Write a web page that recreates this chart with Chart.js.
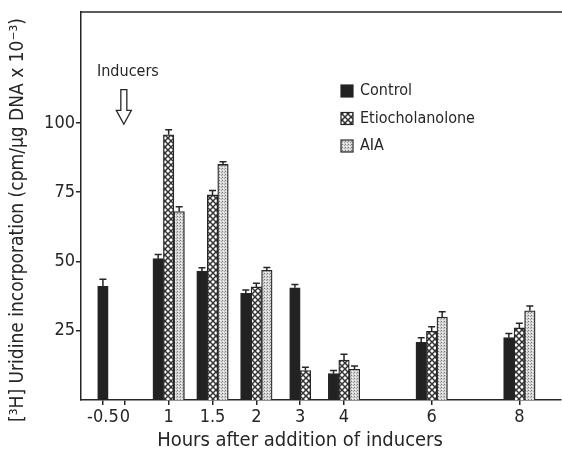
<!DOCTYPE html>
<html>
<head>
<meta charset="utf-8">
<script src="https://cdn.jsdelivr.net/npm/chart.js@4.4.1/dist/chart.umd.min.js"></script>
<style>
  html, body { margin: 0; padding: 0; background: #fff; }
  #wrap { width: 562px; height: 455px; }
</style>
</head>
<body>
<div id="wrap"><canvas id="myChart" width="562" height="455"></canvas></div>
<script>
// data
const hours = ["-0.5", "0", "1", "1.5", "2", "3", "4", "6", "8"];
const control = [41, null, 51, 46.5, 38.5, 40.5, 9.5, 20.8, 22.5];
const etio = [null, null, 95.7, 74, 40.8, 10.6, 14.4, 24.8, 26];
const aia = [null, null, 68, 85, 46.8, null, 11.1, 29.9, 32.2];
const controlErr = [2.6, null, 1.5, 1.2, 1.2, 1.2, 1.1, 1.7, 1.5];
const etioErr = [null, null, 1.8, 1.6, 1.3, 1.2, 2.1, 1.6, 1.7];
const aiaErr = [null, null, 1.7, 1.0, 1.0, null, 1.2, 1.9, 1.7];
const yTicks = [25, 50, 75, 100];

// the time axis of the figure is not to scale: slot index of each tick
const slots = [0, 1, 3, 5, 7, 9, 11, 15, 19];

const FONT = "'Liberation Sans Narrow', 'DejaVu Sans Condensed', 'Open Sans', sans-serif";
const INK = "#262626";

function makeTile(size, draw) {
  const c = document.createElement("canvas");
  c.width = size;
  c.height = size;
  const g = c.getContext("2d");
  g.fillStyle = "#fff";
  g.fillRect(0, 0, size, size);
  draw(g, size);
  return document.getElementById("myChart").getContext("2d").createPattern(c, "repeat");
}

const hatch = makeTile(6, (g, s) => {
  g.strokeStyle = "#333";
  g.lineWidth = 1.5;
  g.beginPath();
  g.moveTo(0, 0); g.lineTo(s, s);
  g.moveTo(0, s); g.lineTo(s, 0);
  g.stroke();
});

const dots = makeTile(3, (g) => {
  g.fillStyle = "#d6d6d6";
  g.fillRect(0, 0, 3, 3);
  g.fillStyle = "#7a7a7a";
  g.fillRect(0, 0, 1, 1);
  g.fillStyle = "#a8a8a8";
  g.fillRect(2, 1, 1, 1);
  g.fillStyle = "#f4f4f4";
  g.fillRect(1, 2, 1, 1);
});

const series = [
  { label: "Control", values: control, errs: controlErr, fill: "#222" },
  { label: "Etiocholanolone", values: etio, errs: etioErr, fill: hatch },
  { label: "AIA", values: aia, errs: aiaErr, fill: dots },
];

const extras = {
  id: "extras",
  afterDatasetsDraw(chart) {
    const ctx = chart.ctx;
    const y = chart.scales.y;
    ctx.save();
    ctx.strokeStyle = INK;
    ctx.lineWidth = 1.5;
    series.forEach((s, d) => {
      chart.getDatasetMeta(d).data.forEach((bar, i) => {
        const v = s.values[i];
        const e = s.errs[i];
        if (v == null || e == null) return;
        const top = y.getPixelForValue(v + e);
        ctx.beginPath();
        ctx.moveTo(bar.x, bar.y);
        ctx.lineTo(bar.x, top);
        ctx.moveTo(bar.x - 3.5, top);
        ctx.lineTo(bar.x + 3.5, top);
        ctx.stroke();
      });
    });
    ctx.restore();
  },
  afterDraw(chart) {
    const ctx = chart.ctx;
    const area = chart.chartArea;
    const x = chart.scales.x;
    const y = chart.scales.y;
    ctx.save();

    // top of the frame
    ctx.strokeStyle = INK;
    ctx.lineWidth = 1.5;
    ctx.beginPath();
    ctx.moveTo(area.left, area.top);
    ctx.lineTo(chart.width, area.top);
    ctx.stroke();

    // "Inducers" arrow at time 0
    const ax = x.getPixelForValue(slots[1]) - 1;
    const aTop = y.getPixelForValue(112);
    const aNeck = y.getPixelForValue(104.5);
    const aTip = y.getPixelForValue(99.5);
    ctx.lineWidth = 1.3;
    ctx.fillStyle = "#fff";
    ctx.beginPath();
    ctx.moveTo(ax - 3, aTop);
    ctx.lineTo(ax + 3, aTop);
    ctx.lineTo(ax + 3, aNeck);
    ctx.lineTo(ax + 7.5, aNeck);
    ctx.lineTo(ax, aTip);
    ctx.lineTo(ax - 7.5, aNeck);
    ctx.lineTo(ax - 3, aNeck);
    ctx.closePath();
    ctx.fill();
    ctx.stroke();

    ctx.fillStyle = INK;
    ctx.font = "16px " + FONT;
    ctx.textAlign = "left";
    ctx.textBaseline = "middle";
    ctx.fillText("Inducers", 97, 72);

    // legend
    series.forEach((s, i) => {
      const ly = 91 + i * 27.5;
      ctx.fillStyle = s.fill;
      ctx.fillRect(341, ly - 6, 12, 12);
      ctx.lineWidth = 1.2;
      ctx.strokeRect(341, ly - 6, 12, 12);
      ctx.fillStyle = INK;
      ctx.font = "16px " + FONT;
      ctx.fillText(s.label, 360, ly);
    });

    // axis titles
    ctx.textAlign = "center";
    ctx.font = "20px " + FONT;
    ctx.fillText("Hours after addition of inducers", 300, 441);
    ctx.translate(18, 220);
    ctx.rotate(-Math.PI / 2);
    ctx.font = "19px " + FONT;
    ctx.fillText("[\u00B3H] Uridine incorporation (cpm/\u00B5g DNA x 10\u207B\u00B3)", 0, 0);
    ctx.restore();
  },
};

new Chart(document.getElementById("myChart"), {
  type: "bar",
  data: {
    datasets: series.map((s) => ({
      label: s.label,
      data: hours.map((h, i) => ({ x: slots[i], y: s.values[i] })),
      backgroundColor: s.fill,
      borderColor: INK,
      borderWidth: 1.3,
      borderSkipped: "bottom",
      barThickness: 10.5,
    })),
  },
  options: {
    responsive: false,
    animation: false,
    skipNull: true,
    layout: { padding: { top: 12, right: 1, left: 0, bottom: 0 } },
    plugins: {
      legend: { display: false },
      tooltip: { enabled: false },
    },
    scales: {
      x: {
        type: "linear",
        offset: false,
        min: -1,
        max: 20.9,
        afterBuildTicks: (axis) => {
          axis.ticks = slots.map((v) => ({ value: v }));
        },
        afterFit: (axis) => {
          axis.height = 55;
        },
        ticks: {
          callback: (v, i) => hours[i],
          color: INK,
          font: { family: FONT, size: 18 },
          padding: 2,
          maxRotation: 0,
          autoSkip: false,
        },
        grid: { offset: false, drawOnChartArea: false, tickLength: 5, color: INK, lineWidth: 1.5 },
        border: { display: true, color: INK, width: 1.5 },
      },
      y: {
        min: 0,
        max: 140,
        afterBuildTicks: (axis) => {
          axis.ticks = yTicks.map((v) => ({ value: v }));
        },
        afterFit: (axis) => {
          axis.width = 81;
        },
        ticks: {
          color: INK,
          font: { family: FONT, size: 18 },
          padding: 1,
        },
        grid: { drawOnChartArea: false, tickLength: 5, color: INK, lineWidth: 1.5 },
        border: { display: true, color: INK, width: 1.5 },
      },
    },
  },
  plugins: [extras],
});
</script>
</body>
</html>
